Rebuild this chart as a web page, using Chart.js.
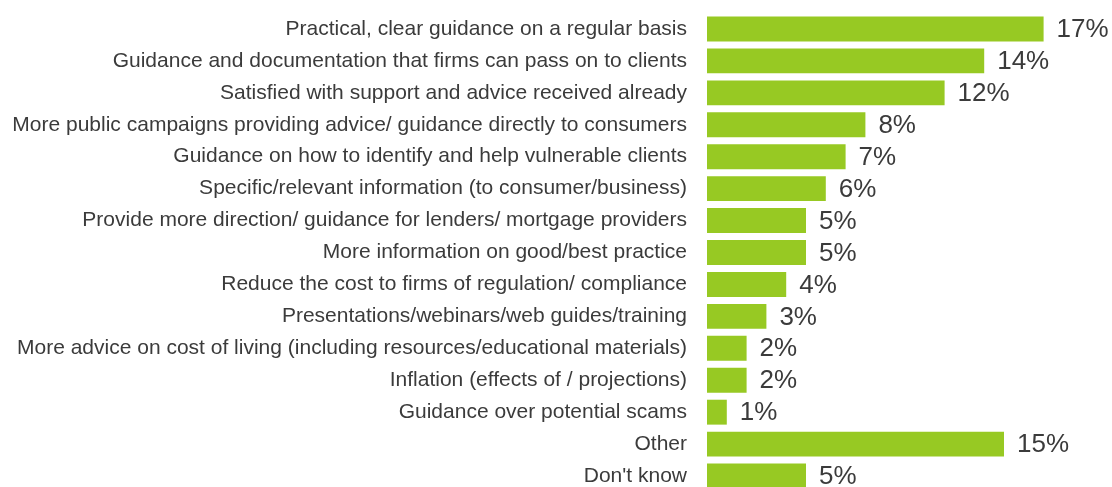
<!DOCTYPE html>
<html>
<head>
<meta charset="utf-8">
<script src="https://cdn.jsdelivr.net/npm/chart.js@4/dist/chart.umd.min.js"></script>
<style>
  html, body { margin: 0; padding: 0; background: #fff; overflow: hidden; }
  #wrap { width: 1112px; height: 495px; position: relative; }
</style>
</head>
<body>
<div id="wrap"><canvas id="barChart"></canvas></div>
<script>
// Risposte (percentuali)
const categories = [
    'Practical, clear guidance on a regular basis',
    'Guidance and documentation that firms can pass on to clients',
    'Satisfied with support and advice received already',
    'More public campaigns providing advice/ guidance directly to consumers',
    'Guidance on how to identify and help vulnerable clients',
    'Specific/relevant information (to consumer/business)',
    'Provide more direction/ guidance for lenders/ mortgage providers',
    'More information on good/best practice',
    'Reduce the cost to firms of regulation/ compliance',
    'Presentations/webinars/web guides/training',
    'More advice on cost of living (including resources/educational materials)',
    'Inflation (effects of / projections)',
    'Guidance over potential scams',
    'Other',
    "Don't know"
];
const percentages = [17, 14, 12, 8, 7, 6, 5, 5, 4, 3, 2, 2, 1, 15, 5];

const barColor = '#97C923';
const textColor = '#3b3b3b';

// Plugin semplice per scrivere il valore a fine barra
const valueLabels = {
    id: 'valueLabels',
    afterDatasetsDraw(chart) {
        const ctx = chart.ctx;
        const meta = chart.getDatasetMeta(0);
        ctx.save();
        ctx.font = '26px "Liberation Sans", Arial, sans-serif';
        ctx.fillStyle = textColor;
        ctx.textAlign = 'left';
        ctx.textBaseline = 'middle';
        meta.data.forEach((bar, i) => {
            ctx.fillText(percentages[i] + '%', bar.x + 13, bar.y + 1);
        });
        ctx.restore();
    }
};

const ctx = document.getElementById('barChart').getContext('2d');
new Chart(ctx, {
    type: 'bar',
    data: {
        labels: categories,
        datasets: [{
            data: percentages,
            backgroundColor: barColor,
            borderWidth: 0,
            barPercentage: 0.78,
            categoryPercentage: 1.0
        }]
    },
    options: {
        indexAxis: 'y',
        responsive: true,
        maintainAspectRatio: false,
        animation: false,
        layout: { padding: { top: 13, right: 9, bottom: 3, left: 0 } },
        scales: {
            x: { display: false, min: 0, max: 20 },
            y: {
                grid: { display: false },
                border: { display: false },
                afterFit(scale) {
                    // larghezza fissa e niente padding verticale extra
                    scale.width = 707;
                    scale.paddingTop = 0;
                    scale.paddingBottom = 0;
                },
                ticks: {
                    padding: 12,
                    color: textColor,
                    font: { family: '"Liberation Sans", Arial, sans-serif', size: 21 },
                    autoSkip: false
                }
            }
        },
        plugins: {
            legend: { display: false },
            tooltip: { enabled: false }
        }
    },
    plugins: [valueLabels]
});
</script>
</body>
</html>
